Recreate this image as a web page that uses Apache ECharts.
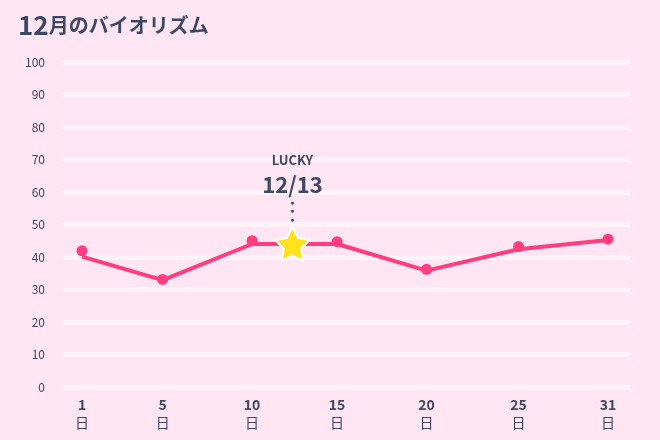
<!DOCTYPE html>
<html>
<head>
<meta charset="utf-8">
<script src="https://cdn.jsdelivr.net/npm/echarts@6/dist/echarts.min.js"></script>
<style>
html, body { margin: 0; padding: 0; background: #ffe6f2; }
#chart { width: 660px; height: 440px; }
</style>
</head>
<body>
<div id="chart"></div>
<script>
// 日付ラベル
var days = ['1', '5', '10', '15', '20', '25', '31'];
// 横位置（ラベルの並び順）
var dayPos = [0, 0.92, 1.94, 2.91, 3.93, 4.98, 6];
// 折れ線の値
var lineValues = [40.1, 32.9, 44, 44, 35.8, 42.4, 45.2];
// 丸マーカーの値
var dotValues = [41.9, 33.1, 45, 44.7, 36.2, 43.2, 45.5];
// ラッキーデー
var luckyDay = '12/13';
var luckyPoint = [2.4, 44];
var yTicks = [0, 10, 20, 30, 40, 50, 60, 70, 80, 90, 100];

var navy = '#3e4766';
var pink = '#ff3d7f';

var lineData = dayPos.map(function (x, i) { return [x, lineValues[i]]; });
var dotData = dayPos.map(function (x, i) { return [x, dotValues[i]]; });

var myChart = echarts.init(document.getElementById('chart'));
var option = {
	backgroundColor: '#ffe6f2',
	animation: false,
	title: {
		text: '{n|12}{t|月のバイオリズム}',
		left: 13,
		top: 7,
		textStyle: {
			rich: {
				n: { fontSize: 26, fontWeight: 'bold', color: navy, fontFamily: 'Noto Sans CJK JP' },
				t: { fontSize: 20, fontWeight: 'bold', color: navy, fontFamily: 'Noto Sans CJK JP' }
			}
		}
	},
	grid: {
		left: 65,
		right: 32,
		top: 62,
		bottom: 53
	},
	xAxis: {
		type: 'value',
		min: -0.194,
		max: 6.228,
		axisLine: { show: false },
		axisTick: { show: false },
		splitLine: { show: false },
		axisLabel: {
			customValues: dayPos,
			margin: 9,
			lineHeight: 18,
			formatter: function (v) {
				var i = dayPos.indexOf(v);
				return '{d|' + days[i] + '}\n{u|日}';
			},
			rich: {
				d: { fontSize: 14, fontWeight: 'bold', color: navy, fontFamily: 'Noto Sans CJK JP', lineHeight: 18 },
				u: { fontSize: 14, color: navy, fontFamily: 'Noto Sans CJK JP', lineHeight: 18 }
			}
		}
	},
	yAxis: {
		type: 'value',
		min: 0,
		max: 100,
		interval: 10,
		axisLine: { show: false },
		axisTick: { show: false },
		axisLabel: {
			margin: 20,
			fontSize: 12,
			color: navy,
			fontFamily: 'Noto Sans CJK JP',
			customValues: yTicks
		},
		splitLine: {
			lineStyle: { color: '#fff3f9', width: 5, cap: 'round' }
		}
	},
	series: [
		{
			type: 'line',
			data: lineData,
			showSymbol: false,
			lineStyle: { color: pink, width: 4 },
			z: 2
		},
		{
			type: 'scatter',
			data: dotData,
			symbolSize: 11,
			itemStyle: { color: pink, opacity: 1 },
			z: 3
		},
		{
			type: 'scatter',
			data: [luckyPoint],
			symbol: 'path://M50,0 L65.3,29 L97.6,34.6 L74.7,58 L79.4,90.5 L50,76 L20.6,90.5 L25.3,58 L2.4,34.6 L34.7,29 Z',
			symbolSize: 34,
			itemStyle: { color: '#ffe21e', borderColor: '#ffffff', borderWidth: 2, opacity: 1, borderJoin: 'round' },
			z: 4,
			label: {
				show: true,
				position: 'top',
				distance: 2,
				opacity: 1,
				formatter: '{a|LUCKY}\n{b|' + luckyDay + '}\n{c|●}\n{c|●}\n{c|●}',
				rich: {
					a: { fontSize: 13, fontWeight: 'bold', color: navy, fontFamily: 'Noto Sans CJK JP', lineHeight: 20 },
					b: { fontSize: 22, fontWeight: 'bold', color: navy, fontFamily: 'Noto Sans CJK JP', lineHeight: 28 },
					c: { fontSize: 7, color: navy, lineHeight: 8.5 }
				}
			}
		}
	]
};
myChart.setOption(option);
</script>
</body>
</html>
